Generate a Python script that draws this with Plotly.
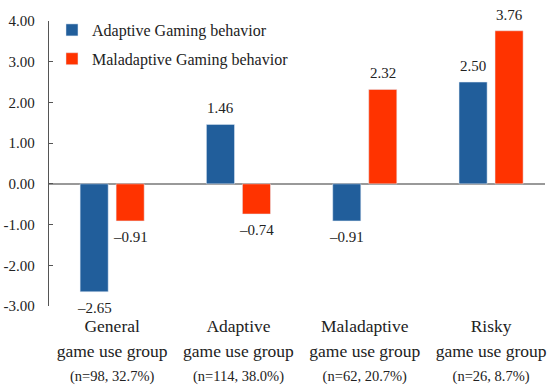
import plotly.graph_objects as go

categories = ["General", "Adaptive", "Maladaptive", "Risky"]
group_sizes = ["(n=98, 32.7%)", "(n=114, 38.0%)", "(n=62, 20.7%)", "(n=26, 8.7%)"]
adaptive = [-2.65, 1.46, -0.91, 2.50]
maladaptive = [-0.91, -0.74, 2.32, 3.76]
series_names = ["Adaptive Gaming behavior", "Maladaptive Gaming behavior"]
y_ticks = [4, 3, 2, 1, 0, -1, -2, -3]
y_tick_labels = ["4.00", "3.00", "2.00", "1.00", "0.00", "-1.00", "-2.00", "-3.00"]

FONT = "'Liberation Serif', 'Times New Roman', serif"
BLUE = "#215E9B"
RED = "#FF3300"
BARGAP = 0.43
BARGROUPGAP = 0.22

def fmt(v):
    return f"{v:.2f}".replace("-", "\u2013")

x_idx = list(range(len(categories)))
tick_text = [
    f"<span style='font-size:17.5px'>{c}</span><br>"
    f"<span style='font-size:17.5px'>game use group</span><br>"
    f"<span style='font-size:14.5px'>{n}</span>"
    for c, n in zip(categories, group_sizes)
]

fig = go.Figure()
fig.add_trace(go.Bar(
    x=x_idx, y=adaptive, name=series_names[0], marker_color=BLUE,
    legendgroup="a",
))
fig.add_trace(go.Bar(
    x=x_idx, y=maladaptive, name=series_names[1], marker_color=RED,
    legendgroup="b",
))

# value labels at the bar ends (bar centres follow plotly's group layout)
half_slot = (1 - BARGAP) / 4
for series, off in ((adaptive, -half_slot), (maladaptive, half_slot)):
    for i, v in zip(x_idx, series):
        fig.add_annotation(
            x=i + off, y=v, xref="x", yref="y", text=fmt(v),
            showarrow=False, yshift=16 if v >= 0 else -16,
            font=dict(family=FONT, size=15, color="#222"),
        )

fig.update_layout(
    width=550, height=389,
    margin=dict(l=49, r=5, t=21, b=83),
    plot_bgcolor="white", paper_bgcolor="white",
    barmode="group", bargap=BARGAP, bargroupgap=BARGROUPGAP,
    font=dict(family=FONT, size=15, color="#222"),
    showlegend=True,
    legend=dict(
        x=0.006, y=1.028, xanchor="left", yanchor="top",
        font=dict(family=FONT, size=16, color="#222"),
        traceorder="grouped", tracegroupgap=5,
        bgcolor="rgba(0,0,0,0)",
    ),
)
fig.update_xaxes(
    range=[-0.5, 3.427], tickvals=x_idx, ticktext=tick_text,
    showline=False, showgrid=False, ticks="", zeroline=False,
    tickfont=dict(family=FONT, size=19, color="#222"),
    ticklabelstandoff=6, automargin=False,
)
fig.update_yaxes(
    range=[-3, 4], tickvals=y_ticks, ticktext=y_tick_labels,
    showline=True, linecolor="#555", linewidth=1.3,
    ticks="inside", ticklen=4, tickcolor="#555",
    showgrid=False, zeroline=True, zerolinecolor="#999", zerolinewidth=1.5,
    tickfont=dict(family=FONT, size=15, color="#222"),
    ticklabelstandoff=10, automargin=False,
)
fig.write_html(
    "out.html",
    config={"displayModeBar": False},
    post_script="document.body.style.margin='0';document.body.style.overflow='hidden';",
)
